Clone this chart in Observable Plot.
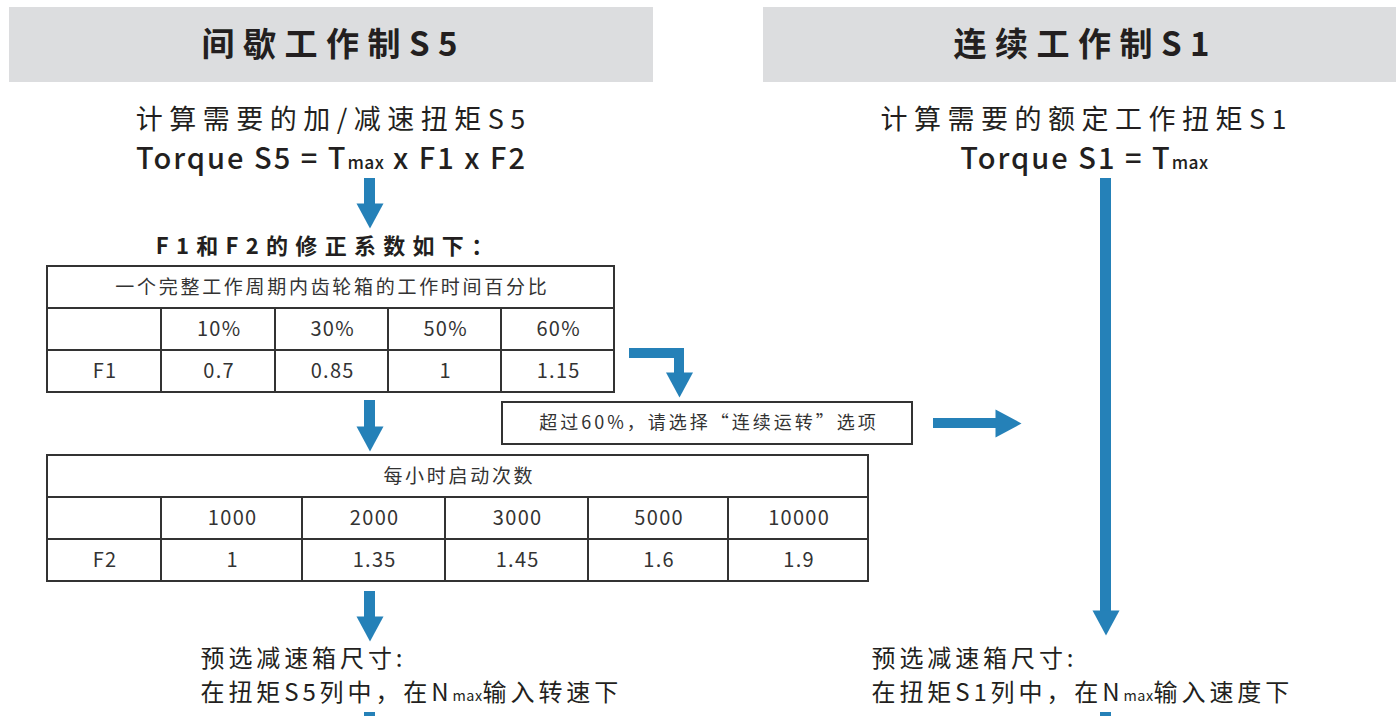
<!DOCTYPE html>
<html>
<head>
<meta charset="utf-8">
<script src="https://cdn.jsdelivr.net/npm/d3@7"></script>
<script src="https://cdn.jsdelivr.net/npm/@observablehq/plot@0.6"></script>
<style>
  html, body { margin: 0; padding: 0; background: #fff; }
  #chart svg { display: block; }
</style>
</head>
<body>
<div id="chart"></div>
<script>
// ---------- content (text and values) ----------
const headers = ["间歇工作制S5", "连续工作制S1"];
const formulaTitles = ["计算需要的加/减速扭矩S5", "计算需要的额定工作扭矩S1"];
const formulas = ["Torque S5 = Tmax x F1 x F2", "Torque S1 = Tmax"];
const factorTitle = "F1和F2的修正系数如下：";
const f1Caption = "一个完整工作周期内齿轮箱的工作时间百分比";
const f1RowLabel = "F1";
const f1Percent = ["10%", "30%", "50%", "60%"];
const f1Values = [0.7, 0.85, 1, 1.15];
const f2Caption = "每小时启动次数";
const f2RowLabel = "F2";
const f2Starts = [1000, 2000, 3000, 5000, 10000];
const f2Values = [1, 1.35, 1.45, 1.6, 1.9];
const overNote = "超过60%，请选择“连续运转”选项";
const s5Steps = ["预选减速箱尺寸:", "在扭矩S5列中，在Nmax输入转速下"];
const s1Steps = ["预选减速箱尺寸:", "在扭矩S1列中，在Nmax输入速度下"];

// ---------- layout (pixel grid of the diagram) ----------
const W = 1396, H = 716;
const BLUE = "#2581b8", INK = "#231f20", GRID = "#333333", BAND = "#dcdddf";
const layout = {
  headerBoxes: [[9, 653], [763, 1396]], headerY: [7, 82], headerCx: [329, 1081], headerTextY: 45,
  formulaCx: [330, 1083], formulaTitleY: 120, formulaY: 159,
  factorCx: 324, factorY: 246,
  t1Cols: [47, 161, 275, 388, 501, 614], t1Rows: [266, 308, 350, 392],
  t2Cols: [47, 161, 302, 445, 588, 728, 868], t2Rows: [455, 497, 539, 581],
  noteBox: [502, 912, 402, 444],
  stepsX: [200, 871], stepsY: [659, 693]
};
const shafts = [
  {x1: 364, x2: 375, y1: 178, y2: 205},
  {x1: 364, x2: 375, y1: 400, y2: 428},
  {x1: 364, x2: 375, y1: 591, y2: 618},
  {x1: 364, x2: 375, y1: 712, y2: 716},
  {x1: 1100, x2: 1111, y1: 178, y2: 612},
  {x1: 1100, x2: 1111, y1: 712, y2: 716},
  {x1: 629, x2: 684, y1: 348, y2: 358},
  {x1: 674, x2: 684, y1: 348, y2: 374},
  {x1: 933, x2: 996, y1: 418, y2: 428}
];
function downHead(id, cx, y0, y1, hw) {
  return [{id, x: cx - hw, y: y0}, {id, x: cx + hw, y: y0}, {id, x: cx, y: y1}, {id, x: cx - hw, y: y0}];
}
const heads = [
  ...downHead("a1", 369.5, 203, 228, 13.5),
  ...downHead("a2", 369.5, 426, 451, 13.5),
  ...downHead("a3", 369.5, 616, 641, 13.5),
  ...downHead("a4", 1105.5, 610, 635, 13.5),
  ...downHead("a5", 679, 372, 397, 13.5),
  {id: "a6", x: 995, y: 409}, {id: "a6", x: 1021, y: 423}, {id: "a6", x: 995, y: 437}, {id: "a6", x: 995, y: 409}
];

// ---------- tables built from the value arrays ----------
function tableCells(cols, rows, caption, rowLabel, heads, vals) {
  const cells = [];
  cells.push({x1: cols[0], x2: cols[cols.length - 1], y1: rows[0], y2: rows[1], label: caption, kind: "cap"});
  const r2 = ["", ...heads.map(String)];
  const r3 = [rowLabel, ...vals.map(String)];
  for (let i = 0; i < cols.length - 1; i++) {
    cells.push({x1: cols[i], x2: cols[i + 1], y1: rows[1], y2: rows[2], label: r2[i], kind: "cell"});
    cells.push({x1: cols[i], x2: cols[i + 1], y1: rows[2], y2: rows[3], label: r3[i], kind: "cell"});
  }
  return cells;
}
const cells = [
  ...tableCells(layout.t1Cols, layout.t1Rows, f1Caption, f1RowLabel, f1Percent, f1Values),
  ...tableCells(layout.t2Cols, layout.t2Rows, f2Caption, f2RowLabel, f2Starts, f2Values)
];

// letter spacing for each text group
const spacingOf = new Map();
headers.forEach(t => spacingOf.set(t, 8.5));
formulaTitles.forEach(t => spacingOf.set(t, 6.5));
formulas.forEach(t => spacingOf.set(t, 2));
spacingOf.set(factorTitle, 7.3);
spacingOf.set(f1Caption, 2.7);
spacingOf.set(f2Caption, 2.7);
cells.filter(d => d.kind === "cell").forEach(d => spacingOf.set(d.label, 1.3));
spacingOf.set(overNote, 3);
[...s5Steps, ...s1Steps].forEach(t => spacingOf.set(t, 3.9));

const FONT = "'Noto Sans CJK SC', 'Noto Sans', sans-serif";

const chart = Plot.plot({
  width: W, height: H, margin: 0,
  x: {domain: [0, W], range: [0, W], axis: null},
  y: {domain: [0, H], range: [0, H], axis: null},
  style: {fontFamily: FONT, background: "#fff", color: INK},
  marks: [
    Plot.rect(layout.headerBoxes, {x1: d => d[0], x2: d => d[1], y1: layout.headerY[0], y2: layout.headerY[1], fill: BAND}),
    Plot.text(headers, {x: (d, i) => layout.headerCx[i], y: layout.headerTextY, text: d => d, fontSize: 33, fontWeight: 700, fill: INK}),
    Plot.text(formulaTitles, {x: (d, i) => layout.formulaCx[i], y: layout.formulaTitleY, text: d => d, fontSize: 27, fill: INK}),
    Plot.text(formulas, {x: (d, i) => layout.formulaCx[i], y: layout.formulaY, text: d => d, fontSize: 29, fontWeight: 500, fill: INK}),
    Plot.text([factorTitle], {x: layout.factorCx, y: layout.factorY, text: d => d, fontSize: 22, fontWeight: 700, fill: INK}),
    Plot.rect(cells, {x1: "x1", x2: "x2", y1: "y1", y2: "y2", fill: "#fff", stroke: GRID, strokeWidth: 2}),
    Plot.text(cells.filter(d => d.kind === "cap"), {x: d => (d.x1 + d.x2) / 2, y: d => (d.y1 + d.y2) / 2, text: "label", fontSize: 19, fill: "#333"}),
    Plot.text(cells.filter(d => d.kind === "cell"), {x: d => (d.x1 + d.x2) / 2, y: d => (d.y1 + d.y2) / 2, text: "label", fontSize: 20, fill: "#333"}),
    Plot.rect([layout.noteBox], {x1: d => d[0], x2: d => d[1], y1: d => d[2], y2: d => d[3], fill: "#fff", stroke: GRID, strokeWidth: 2}),
    Plot.text([overNote], {x: (layout.noteBox[0] + layout.noteBox[1]) / 2, y: (layout.noteBox[2] + layout.noteBox[3]) / 2, text: d => d, fontSize: 18, fill: "#333"}),
    Plot.rect(shafts, {x1: "x1", x2: "x2", y1: "y1", y2: "y2", fill: BLUE}),
    Plot.line(heads, {x: "x", y: "y", z: "id", fill: BLUE, stroke: "none", curve: "linear"}),
    Plot.text(s5Steps, {x: layout.stepsX[0], y: (d, i) => layout.stepsY[i], text: d => d, textAnchor: "start", fontSize: 24, fill: INK}),
    Plot.text(s1Steps, {x: layout.stepsX[1], y: (d, i) => layout.stepsY[i], text: d => d, textAnchor: "start", fontSize: 24, fill: INK})
  ]
});
document.getElementById("chart").appendChild(chart);

const svg = d3.select(chart);
svg.selectAll("text").each(function () {
  const t = this.textContent;
  const s = spacingOf.get(t);
  if (s == null) return;
  const sel = d3.select(this);
  sel.attr("letter-spacing", s);
  const anchor = this.getAttribute("text-anchor") || (this.parentNode && this.parentNode.getAttribute("text-anchor"));
  if (anchor !== "start") sel.attr("dx", s / 2);
  const m = t.match(/^(.*?[TN])max(.*)$/);
  if (!m) return;
  sel.text(null);
  sel.append("tspan").text(m[1]);
  sel.append("tspan").attr("font-size", "0.6em").attr("letter-spacing", 0.5).text("max");
  sel.append("tspan").text(m[2]);
});
</script>
</body>
</html>
